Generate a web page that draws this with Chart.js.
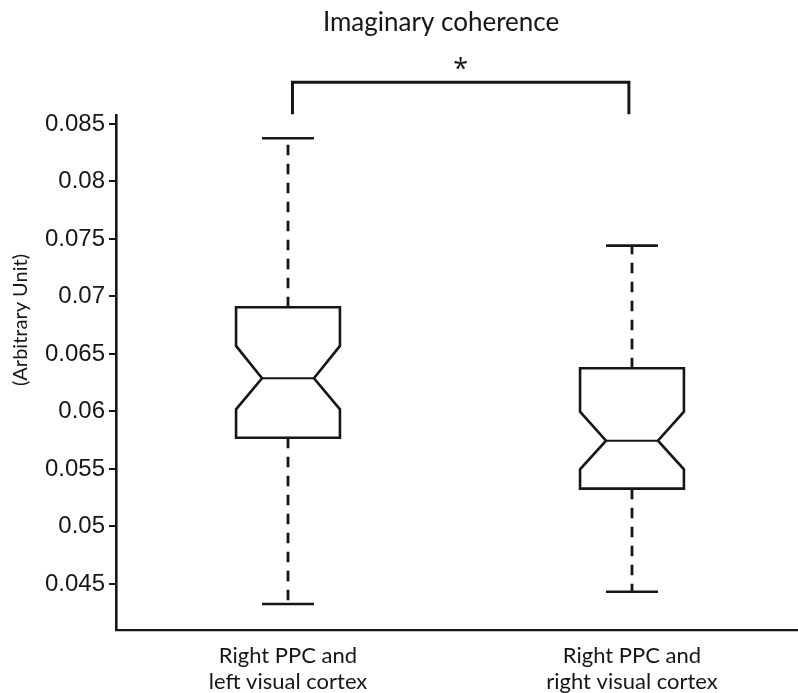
<!DOCTYPE html>
<html>
<head>
<meta charset="utf-8">
<script src="https://cdn.jsdelivr.net/npm/chart.js@4.4.0/dist/chart.umd.min.js"></script>
<style>
  html, body { margin: 0; padding: 0; background: #fff; }
  #wrap { width: 798px; height: 693px; }
</style>
</head>
<body>
<div id="wrap"><canvas id="boxChart"></canvas></div>
<script>
const categories = [['Right PPC and', 'left visual cortex'], ['Right PPC and', 'right visual cortex']];
const whiskerLow = [0.04326, 0.04433];
const q1 = [0.05772, 0.05329];
const notchLow = [0.06019, 0.05497];
const medians = [0.06289, 0.05746];
const notchHigh = [0.06570, 0.05998];
const q3 = [0.06906, 0.06376];
const whiskerHigh = [0.08376, 0.07442];
const yTicks = [0.045, 0.05, 0.055, 0.06, 0.065, 0.07, 0.075, 0.08, 0.085];
const sigPair = [1, 2];
const sigLabel = '*';
const chartTitle = 'Imaginary coherence';
const yTitle = '(Arbitrary Unit)';

const ink = '#161616';
const boxWidth = 0.302;   // in x units
const humanist = 'Lato';

// notched boxes, whiskers, significance bracket and titles
const boxPlugin = {
  id: 'notchedBoxes',
  afterDatasetsDraw(chart) {
    const { ctx, scales: { x, y } } = chart;
    ctx.save();
    ctx.strokeStyle = ink;
    ctx.lineJoin = 'miter';

    categories.forEach((c, i) => {
      const cx = x.getPixelForValue(i + 1);
      const half = x.getPixelForValue(i + 1 + boxWidth / 2) - cx;
      const L = cx - half, R = cx + half;

      // whiskers (dashed)
      ctx.lineWidth = 2.8;
      ctx.setLineDash([10.5, 8.5]);
      ctx.beginPath();
      ctx.moveTo(cx, y.getPixelForValue(q3[i]));
      ctx.lineTo(cx, y.getPixelForValue(whiskerHigh[i]));
      ctx.moveTo(cx, y.getPixelForValue(q1[i]));
      ctx.lineTo(cx, y.getPixelForValue(whiskerLow[i]));
      ctx.stroke();
      ctx.setLineDash([]);

      // caps
      ctx.lineWidth = 2.6;
      ctx.beginPath();
      [whiskerHigh[i], whiskerLow[i]].forEach(v => {
        ctx.moveTo(cx - half / 2, y.getPixelForValue(v));
        ctx.lineTo(cx + half / 2, y.getPixelForValue(v));
      });
      ctx.stroke();

      // notched box
      const yq3 = y.getPixelForValue(q3[i]);
      const yq1 = y.getPixelForValue(q1[i]);
      const ynh = y.getPixelForValue(notchHigh[i]);
      const ynl = y.getPixelForValue(notchLow[i]);
      const ym = y.getPixelForValue(medians[i]);
      ctx.fillStyle = '#fff';
      ctx.beginPath();
      ctx.moveTo(L, yq3);
      ctx.lineTo(R, yq3);
      ctx.lineTo(R, ynh);
      ctx.lineTo(cx + half / 2, ym);
      ctx.lineTo(R, ynl);
      ctx.lineTo(R, yq1);
      ctx.lineTo(L, yq1);
      ctx.lineTo(L, ynl);
      ctx.lineTo(cx - half / 2, ym);
      ctx.lineTo(L, ynh);
      ctx.closePath();
      ctx.fill();
      ctx.stroke();

      ctx.lineWidth = 2;
      ctx.beginPath();
      ctx.moveTo(cx - half / 2, ym);
      ctx.lineTo(cx + half / 2, ym);
      ctx.stroke();
    });

    // significance bracket
    const bx1 = x.getPixelForValue(sigPair[0] + 0.013);
    const bx2 = x.getPixelForValue(sigPair[1] - 0.009);
    const by = y.getPixelForValue(0.08862);
    const byLeg = y.getPixelForValue(0.08585);
    ctx.lineWidth = 3;
    ctx.beginPath();
    ctx.moveTo(bx1, byLeg);
    ctx.lineTo(bx1, by);
    ctx.lineTo(bx2, by);
    ctx.lineTo(bx2, byLeg);
    ctx.stroke();

    ctx.fillStyle = ink;
    ctx.textAlign = 'center';
    ctx.textBaseline = 'middle';
    ctx.font = '27px "Open Sans"';
    ctx.fillText(sigLabel, (bx1 + bx2) / 2, y.getPixelForValue(0.0897));

    ctx.font = '26px ' + humanist;
    ctx.textBaseline = 'alphabetic';
    ctx.fillText(chartTitle, x.getPixelForValue(1.445), 31);

    // y axis title
    ctx.font = '20px ' + humanist;
    ctx.textBaseline = 'middle';
    ctx.translate(21, 320);
    ctx.rotate(-Math.PI / 2);
    ctx.fillText(yTitle, 0, 0);
    ctx.restore();
  }
};

const ctx = document.getElementById('boxChart').getContext('2d');

new Chart(ctx, {
  type: 'scatter',
  data: {
    datasets: [{
      label: 'median',
      data: medians.map((m, i) => ({ x: i + 1, y: m })),
      pointRadius: 0,
      showLine: false
    }]
  },
  options: {
    responsive: true,
    maintainAspectRatio: false,
    animation: false,
    layout: { padding: { top: 115, left: 0, right: 0, bottom: 0 } },
    plugins: {
      legend: { display: false },
      tooltip: { enabled: false },
      title: { display: false }
    },
    scales: {
      x: {
        type: 'linear',
        min: 0.5,
        max: 2.4826,
        afterBuildTicks: s => { s.ticks = categories.map((c, i) => ({ value: i + 1 })); },
        ticks: {
          callback: v => categories[v - 1],
          font: { family: humanist, size: 22, lineHeight: 1.22 },
          color: ink,
          padding: 12,
          maxRotation: 0,
          autoSkip: false
        },
        grid: { display: false, drawTicks: false },
        border: { display: true, color: ink, width: 2.2 },
        afterFit: s => { s.height = 63; }
      },
      y: {
        min: 0.041,
        max: 0.08578,
        afterBuildTicks: s => { s.ticks = yTicks.map(v => ({ value: v })); },
        ticks: {
          callback: v => String(+v.toFixed(3)),
          font: { family: 'Liberation Sans', size: 24 },
          color: ink,
          padding: 4
        },
        grid: { drawOnChartArea: false, drawTicks: true, tickLength: 7, color: ink, lineWidth: 2 },
        border: { display: true, color: ink, width: 2.6 },
        afterFit: s => { s.width = 116; }
      }
    }
  },
  plugins: [boxPlugin]
});
</script>
</body>
</html>
